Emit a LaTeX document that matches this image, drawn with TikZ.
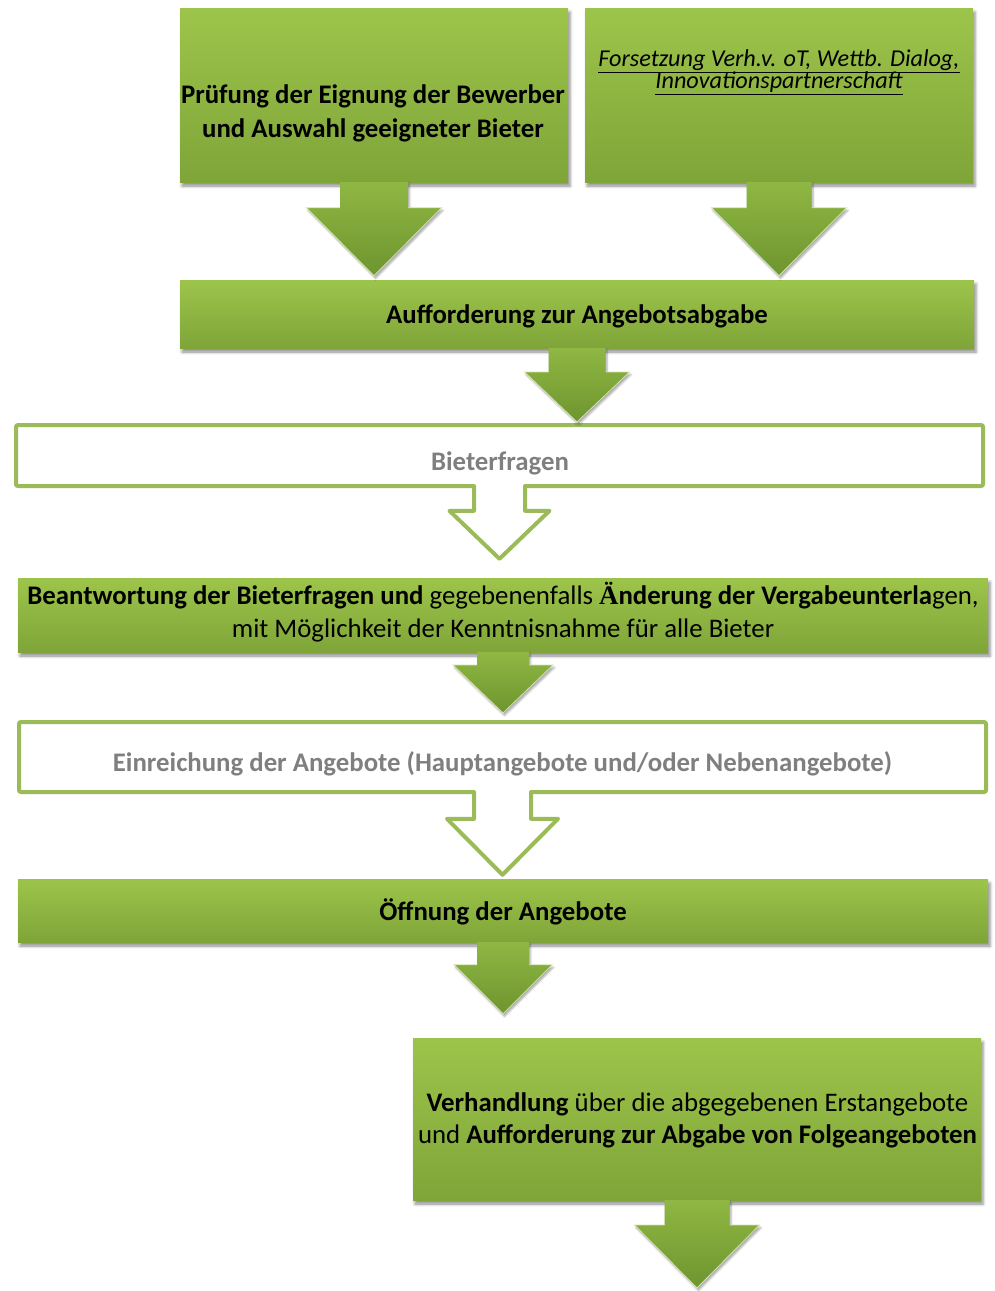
\documentclass[tikz,border=0pt]{standalone}
\usepackage{fontspec}
\setmainfont{Carlito}
\newfontfamily\altserif{Liberation Serif}
\usetikzlibrary{calc,shadows.blur}
\definecolor{gtop}{HTML}{9DC44A}
\definecolor{gbot}{HTML}{7FA539}
\definecolor{atop}{HTML}{8FB743}
\definecolor{abot}{HTML}{6E952F}
\definecolor{gline}{HTML}{9BBB59}
\definecolor{gtext}{HTML}{7F7F7F}
\tikzset{
  gbox/.style={rectangle, inner sep=0pt, draw=none, top color=gtop, bottom color=gbot,
    blur shadow={shadow xshift=2pt, shadow yshift=-4pt, shadow blur radius=3pt, shadow opacity=45}},
  obox/.style={rectangle, inner sep=0pt, draw=gline, line width=4pt, fill=white, rounded corners=2pt},
  garrow/.style={top color=atop, bottom color=abot, draw=none,
    blur shadow={shadow xshift=1.5pt, shadow yshift=-2.5pt, shadow blur radius=2pt, shadow opacity=35}},
  arrowedge/.style={draw=white!55!gtop, line width=0.8pt, line join=miter},
  oarrow/.style={draw=gline, line width=4pt, line join=round, line cap=round},
  lbl/.style={align=center, inner sep=0pt, font=\fontsize{26.8}{34}\selectfont},
  glbl/.style={lbl, text=gtext, font=\fontsize{26.8}{34}\selectfont\bfseries},
  slbl/.style={align=center, inner sep=0pt, font=\fontsize{24.2}{20}\selectfont\itshape},
}
% #1 style, #2 start, #3 target, #4 gap, #5 shaft half, #6 head half, #7 head length
\newcommand\blockarrow[7]{%
  \path[#1] let \p1=(#2), \p2=(#3) in
    (\x2-#5,\y1) -- (\x2+#5,\y1) -- (\x2+#5,\y2+#4+#7) -- (\x2+#6,\y2+#4+#7)
    -- (\x2,\y2+#4) -- (\x2-#6,\y2+#4+#7) -- (\x2-#5,\y2+#4+#7) -- cycle;
  \path[arrowedge] let \p1=(#2), \p2=(#3) in
    (\x2-#5,\y2+#4+#7) -- (\x2-#6,\y2+#4+#7) -- (\x2,\y2+#4) -- (\x2+#6,\y2+#4+#7) -- (\x2+#5,\y2+#4+#7);}
% #1 start, #2 target, #3 gap, #4 shaft half, #5 head half, #6 head length
\newcommand\outlinearrow[6]{%
  \fill[white] let \p1=(#1), \p2=(#2) in
    (\x2-#4,\y1+4.5pt) -- (\x2+#4,\y1+4.5pt) -- (\x2+#4,\y2+#3+#6) -- (\x2+#5,\y2+#3+#6)
    -- (\x2,\y2+#3) -- (\x2-#5,\y2+#3+#6) -- (\x2-#4,\y2+#3+#6) -- cycle;
  \draw[oarrow] let \p1=(#1), \p2=(#2) in
    (\x2-#4,\y1+2pt) -- (\x2-#4,\y2+#3+#6) -- (\x2-#5,\y2+#3+#6) -- (\x2,\y2+#3)
    -- (\x2+#5,\y2+#3+#6) -- (\x2+#4,\y2+#3+#6) -- (\x2+#4,\y1+2pt);}
\begin{document}
\begin{tikzpicture}[x=1pt,y=-1pt]
\useasboundingbox (0,0) rectangle (995,1291);
% boxes
\node[gbox, minimum width=388pt, minimum height=174pt] (A) at (374,95) {};
\node[gbox, minimum width=388pt, minimum height=174pt] (B) at (779,95) {};
\node[gbox, minimum width=794pt, minimum height=68pt] (C) at (577,314) {};
\node[obox, minimum width=967pt, minimum height=61pt] (D) at (499.5,455.5) {};
\node[gbox, minimum width=970pt, minimum height=74pt] (E) at (503,615) {};
\node[obox, minimum width=967pt, minimum height=70pt] (F) at (502.5,757) {};
\node[gbox, minimum width=970pt, minimum height=63pt] (G) at (503,910.5) {};
\node[gbox, minimum width=568pt, minimum height=162pt] (H) at (697,1119) {};
\coordinate (Hend) at (697,1288);
% labels
\node[lbl, font=\fontsize{26.8}{34}\selectfont\bfseries] (Atxt) at (373,113)
  {Prüfung der Eignung der Bewerber\\und Auswahl geeigneter Bieter};
\node[slbl] (Btxt) at (779,72)
  {\underline{Forsetzung Verh.v. oT, Wettb. Dialog,}\\[-2pt]\underline{Innovationspartnerschaft}};
\node[lbl, font=\fontsize{26.8}{34}\selectfont\bfseries] (Ctxt) at (577,316)
  {Aufforderung zur Angebotsabgabe};
\node[glbl] (Dtxt) at (500,463) {Bieterfragen};
\node[lbl, font=\fontsize{26.8}{33}\selectfont] (Etxt) at (503,612)
  {\textbf{Beantwortung der Bieterfragen und} gegebenenfalls \textbf{{\altserif Ä}nderung der Vergabeunterla}gen,\\
   mit Möglichkeit der Kenntnisnahme für alle Bieter};
\node[glbl] (Ftxt) at (502.5,764) {Einreichung der Angebote (Hauptangebote und/oder Nebenangebote)};
\node[lbl, font=\fontsize{26.8}{34}\selectfont\bfseries] (Gtxt) at (503,912) {Öffnung der Angebote};
\node[lbl, font=\fontsize{26.8}{32}\selectfont] (Htxt) at (697.5,1120)
  {\textbf{Verhandlung} über die abgegebenen Erstangebote\\und \textbf{Aufforderung zur Abgabe von Folgeangeboten}};
% arrows
\blockarrow{garrow}{A.south}{A.south |- C.north}{4pt}{34pt}{67.5pt}{68pt}
\blockarrow{garrow}{B.south}{B.south |- C.north}{4pt}{32.5pt}{67.5pt}{68pt}
\blockarrow{garrow}{C.south}{C.south |- D.north}{1pt}{28.5pt}{52.5pt}{50pt}
\outlinearrow{D.south}{D.south |- E.north}{19pt}{25.5pt}{50pt}{48pt}
\blockarrow{garrow}{E.south}{E.south |- F.north}{7pt}{26pt}{50pt}{48pt}
\outlinearrow{F.south}{F.south |- G.north}{4pt}{28.5pt}{55.5pt}{56pt}
\blockarrow{garrow}{G.south}{G.south |- H.north}{24pt}{26pt}{49pt}{49pt}
\blockarrow{garrow}{H.south}{Hend}{0pt}{32.5pt}{62.5pt}{63pt}
\end{tikzpicture}
\end{document}
